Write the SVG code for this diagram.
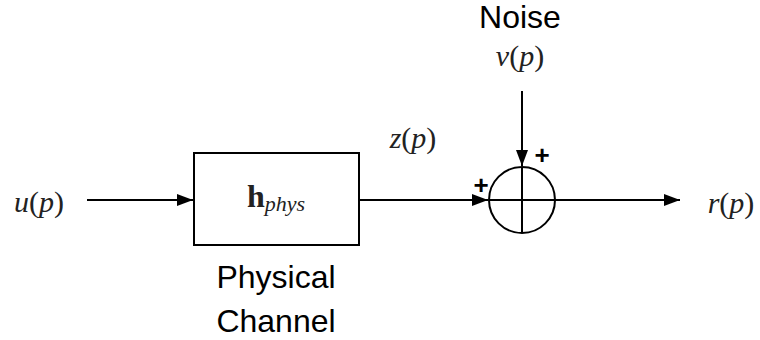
<svg xmlns="http://www.w3.org/2000/svg" width="760" height="340" viewBox="0 0 760 340">
<defs>
<marker id="ah" markerWidth="16" markerHeight="12" refX="16" refY="6" orient="auto" markerUnits="userSpaceOnUse">
<path d="M0,0 L16,6 L0,12 Z" fill="#000"/>
</marker>
<style>
.ln{stroke:#000;stroke-width:2;fill:none}
.math{font-family:"Liberation Serif","DejaVu Serif",serif;font-style:italic;font-size:30px;fill:#222}
.up{font-style:normal}
.lbl{font-family:"Liberation Sans",Arial,sans-serif;font-size:32px;fill:#000}
.pl{font-family:"Liberation Sans",Arial,sans-serif;font-size:26px;font-weight:bold;fill:#000}
</style>
</defs>
<rect width="760" height="340" fill="#fff"/>
<g id="connectors">
<line class="ln" x1="87" y1="200" x2="193" y2="200" marker-end="url(#ah)"/>
<line class="ln" x1="359" y1="200" x2="488" y2="200" marker-end="url(#ah)"/>
<line class="ln" x1="522" y1="91" x2="522" y2="166" marker-end="url(#ah)"/>
<line class="ln" x1="555" y1="200" x2="680" y2="200" marker-end="url(#ah)"/>
</g>
<g id="input">
<text class="math" x="39" y="212" text-anchor="middle">u<tspan class="up">(</tspan>p<tspan class="up">)</tspan></text>
</g>
<g id="channel">
<rect x="194" y="153" width="165" height="92" class="ln"/>
<text x="276" y="207" text-anchor="middle" font-family="Liberation Serif,DejaVu Serif,serif" fill="#222"><tspan font-weight="bold" font-size="32">h</tspan><tspan font-style="italic" font-size="22" dy="4">phys</tspan></text>
<text class="lbl" x="276" y="288" text-anchor="middle">Physical</text>
<text class="lbl" x="276" y="332" text-anchor="middle">Channel</text>
</g>
<g id="zlabel">
<text class="math" x="413" y="148" text-anchor="middle">z<tspan class="up">(</tspan>p<tspan class="up">)</tspan></text>
</g>
<g id="noise">
<text class="lbl" x="520" y="28" text-anchor="middle">Noise</text>
<text class="math" x="520" y="66" text-anchor="middle">ν<tspan class="up">(</tspan>p<tspan class="up">)</tspan></text>
</g>
<g id="sum">
<circle cx="522" cy="200" r="33" class="ln"/>
<line class="ln" x1="489" y1="200" x2="555" y2="200"/>
<line class="ln" x1="522" y1="167" x2="522" y2="233"/>
<text class="pl" x="542" y="164" text-anchor="middle">+</text>
<text class="pl" x="481" y="194" text-anchor="middle">+</text>
</g>
<g id="output">
<text class="math" x="731" y="213" text-anchor="middle">r<tspan class="up">(</tspan>p<tspan class="up">)</tspan></text>
</g>
</svg>
